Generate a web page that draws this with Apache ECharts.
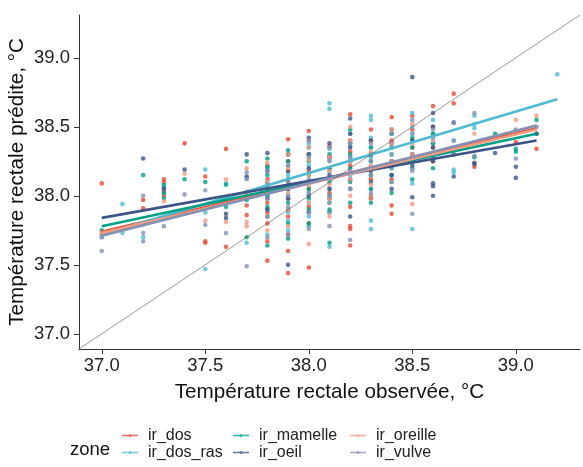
<!DOCTYPE html>
<html><head><meta charset="utf-8">
<script src="https://cdn.jsdelivr.net/npm/echarts@6/dist/echarts.min.js"></script>
<style>html,body{margin:0;padding:0;background:#fff}#c{width:583px;height:467px}</style>
</head><body><div id="c"></div>
<script>
const zones = ['ir_dos','ir_dos_ras','ir_mamelle','ir_oeil','ir_oreille','ir_vulve'];
const zoneColors = ['#E64B35','#4DBBD5','#00A087','#3C5488','#F39B7F','#8491B4'];

// [observed, predicted]
const irDos = [[37.0,38.09],[37.0,37.72],[37.2,37.97],[37.2,37.91],[37.3,38.12],[37.3,38.10],[37.3,38.03],[37.3,38.00],[37.4,38.38],[37.5,38.14],[37.5,37.67],[37.5,37.66],[37.6,38.34],[37.6,37.63],[37.7,38.00],[37.7,37.93],[37.7,37.86],[37.8,38.22],[37.8,38.05],[37.8,37.95],[37.8,37.80],[37.8,37.67],[37.8,37.53],[37.9,38.41],[37.9,38.25],[37.9,38.10],[37.9,37.98],[37.9,37.85],[37.9,37.60],[37.9,37.44],[38.0,38.47],[38.0,38.30],[38.0,38.18],[38.0,38.05],[38.0,37.92],[38.0,37.48],[38.1,38.36],[38.1,38.20],[38.1,38.02],[38.1,37.88],[38.2,38.59],[38.2,38.40],[38.2,38.22],[38.2,38.05],[38.2,37.78],[38.2,37.76],[38.2,37.64],[38.3,38.48],[38.3,38.30],[38.3,38.12],[38.3,37.98],[38.4,38.57],[38.4,38.40],[38.4,38.20],[38.4,37.93],[38.4,37.87],[38.5,38.58],[38.5,38.35],[38.5,38.20],[38.6,38.65],[38.6,38.44],[38.6,38.25],[38.7,38.74],[38.7,38.67],[38.7,38.40],[38.8,38.21],[39.0,38.39],[39.1,38.34],
  [37.8,38.12],[37.8,37.88],[37.9,38.18],[37.9,37.72],[38.0,38.40],[38.0,37.80],[38.1,38.28],[38.1,37.95],[38.2,38.32],[38.2,37.92],[38.3,38.20],[38.3,38.40],[38.4,38.30],[38.4,38.12],[38.5,38.48],[38.5,38.28],[38.6,38.35],[38.6,38.50]];
const irDosRas = [[37.0,37.70],[37.1,37.94],[37.1,37.73],[37.2,37.70],[37.5,38.19],[37.5,37.88],[37.5,37.47],[37.6,38.09],[37.7,38.13],[37.7,37.66],[37.8,38.10],[37.8,37.90],[37.8,37.72],[37.9,38.30],[37.9,38.15],[37.9,38.00],[37.9,37.88],[37.9,37.75],[38.0,38.38],[38.0,38.22],[38.0,38.10],[38.0,37.95],[38.0,37.85],[38.1,38.67],[38.1,38.63],[38.1,38.34],[38.1,38.18],[38.1,38.05],[38.1,37.95],[38.1,37.63],[38.2,38.45],[38.2,38.28],[38.2,38.15],[38.3,38.58],[38.3,38.55],[38.3,38.42],[38.3,38.35],[38.3,38.20],[38.3,37.82],[38.3,37.76],[38.4,38.45],[38.4,38.30],[38.4,38.10],[38.5,38.60],[38.5,38.50],[38.5,38.40],[38.5,38.30],[38.5,38.09],[38.5,37.76],[38.6,38.55],[38.6,38.45],[38.6,38.30],[38.7,38.40],[38.7,38.19],[38.7,38.17],[38.8,38.58],[38.8,38.52],[38.8,38.49],[39.2,38.88],
  [37.8,38.20],[37.8,38.00],[37.9,38.22],[37.9,37.82],[38.0,38.30],[38.0,38.02],[38.0,37.78],[38.1,38.26],[38.1,37.88],[38.2,38.36],[38.2,38.05],[38.3,38.28],[38.3,38.05],[38.4,38.38],[38.4,38.20],[38.5,38.45],[38.5,38.20],[38.6,38.38]];
const irMamelle = [[37.0,37.75],[37.2,38.15],[37.3,38.08],[37.3,38.06],[37.3,38.02],[37.3,37.98],[37.4,38.12],[37.5,38.10],[37.6,38.08],[37.6,37.92],[37.7,38.25],[37.7,37.97],[37.7,37.70],[37.8,38.27],[37.8,38.21],[37.8,38.00],[37.8,37.85],[37.8,37.64],[37.9,38.33],[37.9,38.12],[37.9,37.95],[37.9,37.80],[37.9,37.69],[38.0,38.35],[38.0,38.15],[38.0,37.98],[38.0,37.80],[38.1,38.30],[38.1,38.10],[38.1,37.90],[38.1,37.66],[38.2,38.48],[38.2,38.30],[38.2,38.10],[38.2,37.95],[38.3,38.25],[38.3,38.05],[38.3,37.95],[38.4,38.35],[38.4,38.15],[38.4,38.02],[38.5,38.42],[38.5,38.25],[38.5,38.12],[38.6,38.38],[38.6,38.20],[38.7,38.30],[38.8,38.28],[38.9,38.45],[39.0,38.34],[39.0,38.32],[39.1,38.55],[39.1,38.45],
  [37.8,38.15],[37.8,37.92],[37.9,38.25],[37.9,38.05],[38.0,38.25],[38.0,38.05],[38.0,37.90],[38.1,38.20],[38.1,38.00],[38.2,38.38],[38.2,38.20],[38.3,38.15],[38.3,38.35],[38.4,38.25],[38.4,38.45],[38.5,38.35],[38.6,38.28],[38.6,38.45]];
const irOeil = [[37.2,38.27],[37.3,38.05],[37.4,38.19],[37.6,37.87],[37.6,37.84],[37.7,38.30],[37.7,38.14],[37.8,38.31],[37.8,38.08],[37.8,37.90],[37.9,38.30],[37.9,38.05],[37.9,37.90],[37.9,37.50],[38.0,38.42],[38.0,38.20],[38.0,38.00],[38.0,37.88],[38.1,38.38],[38.1,38.15],[38.1,37.98],[38.2,38.56],[38.2,38.35],[38.2,38.12],[38.2,37.85],[38.3,38.40],[38.3,38.18],[38.3,38.00],[38.4,38.48],[38.4,38.25],[38.4,38.05],[38.5,38.86],[38.5,38.22],[38.5,37.99],[38.6,38.60],[38.6,38.35],[38.6,38.09],[38.6,38.07],[38.6,38.00],[38.7,38.53],[38.7,38.14],[38.8,38.24],[38.8,38.23],[38.9,38.31],[39.0,38.21],[39.0,38.13],[39.1,38.45],
  [37.8,38.18],[37.8,37.98],[37.9,38.18],[37.9,37.98],[38.0,38.30],[38.0,38.10],[38.1,38.28],[38.1,38.05],[38.2,38.45],[38.2,38.25],[38.3,38.30],[38.3,38.10],[38.4,38.38],[38.4,38.15],[38.5,38.40],[38.5,38.30],[38.6,38.50],[38.6,38.25]];
const irOreille = [[37.0,37.73],[37.3,37.96],[37.4,38.16],[37.5,37.82],[37.6,38.12],[37.6,37.81],[37.7,38.20],[37.7,38.03],[37.7,37.81],[37.7,37.78],[37.8,38.24],[37.8,38.02],[37.8,37.75],[37.9,38.20],[37.9,38.02],[37.9,37.78],[38.0,38.26],[38.0,38.08],[38.0,37.65],[38.1,38.28],[38.1,38.08],[38.1,37.85],[38.2,38.50],[38.2,38.25],[38.2,38.00],[38.3,38.32],[38.3,38.08],[38.4,38.38],[38.4,38.10],[38.5,38.30],[38.5,37.94],[38.6,38.40],[38.7,38.35],[38.8,38.45],[39.0,38.55],[39.1,38.58],
  [37.8,38.10],[37.8,37.85],[37.9,38.30],[37.9,37.90],[38.0,38.35],[38.0,38.15],[38.0,37.95],[38.1,38.18],[38.1,37.98],[38.2,38.40],[38.2,38.12],[38.3,38.22],[38.3,38.00],[38.4,38.48],[38.4,38.25],[38.5,38.52],[38.5,38.38],[38.6,38.30]];
const irVulve = [[37.0,37.60],[37.0,37.70],[37.2,38.00],[37.2,37.73],[37.2,37.67],[37.3,37.78],[37.4,38.01],[37.5,38.04],[37.5,37.79],[37.6,37.73],[37.7,38.17],[37.7,38.12],[37.7,37.49],[37.8,38.18],[37.8,37.98],[37.8,37.70],[37.9,38.22],[37.9,37.92],[37.9,37.72],[38.0,38.28],[38.0,38.02],[38.0,37.76],[38.1,38.25],[38.1,38.00],[38.1,37.78],[38.2,38.38],[38.2,38.18],[38.2,37.68],[38.3,38.38],[38.3,38.15],[38.4,38.45],[38.4,38.22],[38.5,38.45],[38.5,37.87],[38.6,38.48],[38.7,38.53],[38.7,38.30],[38.8,38.60],[38.8,38.29],[39.0,38.48],[39.0,38.27],[39.1,38.50],
  [37.8,38.08],[37.8,37.85],[37.9,38.10],[37.9,38.00],[38.0,38.40],[38.0,38.12],[38.0,37.88],[38.1,38.35],[38.1,38.12],[38.2,38.28],[38.2,38.05],[38.3,38.25],[38.3,38.02],[38.4,38.35],[38.4,38.10],[38.5,38.55],[38.5,38.18],[38.6,38.42]];

// linear fits per zone (start/end of observed range and fitted predicted values)
const fitXStart = [37.0, 37.0, 37.0, 37.0, 37.0, 37.0];
const fitXEnd   = [39.1, 39.2, 39.1, 39.1, 39.1, 39.1];
const fitYStart = [37.74, 37.72, 37.78, 37.84, 37.73, 37.71];
const fitYEnd   = [38.49, 38.70, 38.45, 38.40, 38.48, 38.51];

const axisMin = 36.89, axisMax = 39.31;
const tickValues = [37.0, 37.5, 38.0, 38.5, 39.0];

const pointSets = [irDos, irDosRas, irMamelle, irOeil, irOreille, irVulve];
const FONT = "'Liberation Sans', Arial, sans-serif";
const iconPath = 'path://M0,1.2H20V2.8H0Z M10,0A2,2,0,1,1,9.99,0Z';

const series = [];
zones.forEach((z, i) => {
  series.push({type:'scatter', name:z, data:pointSets[i], symbolSize:4.6,
    itemStyle:{color:zoneColors[i]}, z:2, silent:true});
});
zones.forEach((z, i) => {
  series.push({type:'line', name:z+'_fit', data:[[fitXStart[i],fitYStart[i]],[fitXEnd[i],fitYEnd[i]]],
    showSymbol:false, symbol:'none', color:zoneColors[i], lineStyle:{width:2.6,color:zoneColors[i]}, z:3, silent:true});
});
series.push({type:'line', name:'identity', data:[[axisMin,axisMin],[axisMax,axisMax]], showSymbol:false, symbol:'none',
  lineStyle:{width:0.6,color:'#555'}, z:4, silent:true});

const axisCommon = {
  type:'value', min:axisMin, max:axisMax, splitLine:{show:false},
  axisLine:{show:true, onZero:false, lineStyle:{color:'#333', width:1}},
  axisTick:{show:true, length:5, customValues:tickValues, lineStyle:{color:'#333'}},
  axisLabel:{customValues:tickValues, formatter:v=>v.toFixed(1), color:'#222', fontSize:18.5, fontFamily:FONT},
  nameLocation:'middle', nameMoveOverlap:false, nameTextStyle:{color:'#111', fontSize:20.7, fontFamily:FONT}
};

// legend: 3 columns x 2 rows, column-major
const legendLeft = [122, 122, 233, 233, 350, 350];
const legendTop  = [427.5, 444.5, 427.5, 444.5, 427.5, 444.5];

const chart = echarts.init(document.getElementById('c'), null, {renderer:'canvas'});
chart.setOption({
  animation:false,
  backgroundColor:'#fff',
  grid:{left:79, right:3, top:15, bottom:118, containLabel:false, outerBoundsMode:'none'},
  xAxis:Object.assign({}, axisCommon, {name:'Température rectale observée, °C', nameGap:33,
    axisLabel:Object.assign({}, axisCommon.axisLabel, {margin:7})}),
  yAxis:Object.assign({}, axisCommon, {name:'Température rectale prédite, °C', nameGap:51,
    axisLabel:Object.assign({}, axisCommon.axisLabel, {margin:9})}),
  legend:zones.map((z, k) => ({
    left:legendLeft[k], top:legendTop[k], data:[z], padding:0,
    icon:iconPath, itemWidth:16, itemHeight:4.5, selectedMode:false,
    textStyle:{fontSize:16, color:'#222', fontFamily:FONT, lineHeight:15, padding:[0,0,0,5]}
  })),
  graphic:[{type:'text', left:70, top:440, style:{text:'zone', fontSize:18.5, fill:'#111', fontFamily:FONT}}],
  series:series
});
</script></body></html>
